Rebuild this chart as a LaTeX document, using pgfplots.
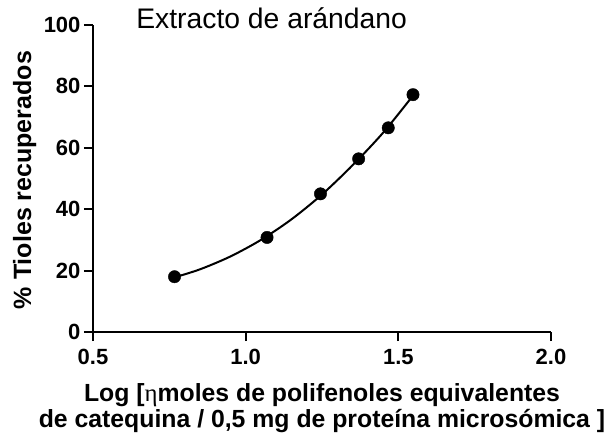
\documentclass[border=0pt]{standalone}
\usepackage{fontspec}
\setmainfont{Liberation Sans}
\newfontfamily\greekserif{Liberation Serif}
\usepackage{pgfplots}
\pgfplotsset{compat=1.18}
\begin{document}
\begin{tikzpicture}
\begin{axis}[
  at={(93pt,102pt)}, anchor=south west,
  scale only axis, width=458pt, height=307pt,
  xmin=0.5, xmax=2.0, ymin=0, ymax=100,
  axis x line*=bottom, axis y line*=left,
  axis line style={-, line width=2.3pt, black},
  xtick={0.5,1.0,1.5,2.0}, ytick={0,20,40,60,80,100},
  tick align=outside, major tick length=9pt,
  tick style={line width=2.1pt, black},
  xticklabel style={/pgf/number format/fixed, /pgf/number format/fixed zerofill, /pgf/number format/precision=1},
  /pgf/number format/assume math mode=true,
  ticklabel style={font=\fontsize{22}{22}\selectfont\bfseries},
  yticklabel style={xshift=0pt},
  xticklabel style={yshift=-5pt},
  title={Extracto de arándano},
  title style={at={(axis description cs:0.39,0.969)}, anchor=base, font=\fontsize{28.3}{28.3}\selectfont},
  xlabel={Log [{\greekserif\mdseries η}moles de polifenoles equivalentes\\de catequina / 0,5 mg de proteína microsómica ]},
  xlabel style={at={(axis description cs:0.5,-0.157)}, anchor=north, align=center, font=\fontsize{24.8}{26}\selectfont\bfseries},
  ylabel={\% Tioles recuperados},
  ylabel style={at={(axis description cs:-0.135,0.495)}, anchor=base, font=\fontsize{25}{25}\selectfont\bfseries},
  clip=false,
]
% fitted curve
\addplot[black, line width=2pt, smooth, tension=0.5, mark=none]
  coordinates {
    (0.767,17.8) (0.85,20.4) (0.95,24.6) (1.05,30.0) (1.15,36.7)
    (1.25,44.8) (1.35,54.3) (1.45,64.9) (1.548,77.0)
  };
% measured points
\addplot[only marks, mark=*, mark size=6.2pt, mark options={fill=black, draw=black}]
  coordinates {
    (0.767,18.0) (1.070,30.8) (1.245,45.0) (1.370,56.4) (1.467,66.5) (1.548,77.3)
  };
\end{axis}
\pgfresetboundingbox
\useasboundingbox (0,0) rectangle (611pt,434pt);
\end{tikzpicture}
\end{document}
